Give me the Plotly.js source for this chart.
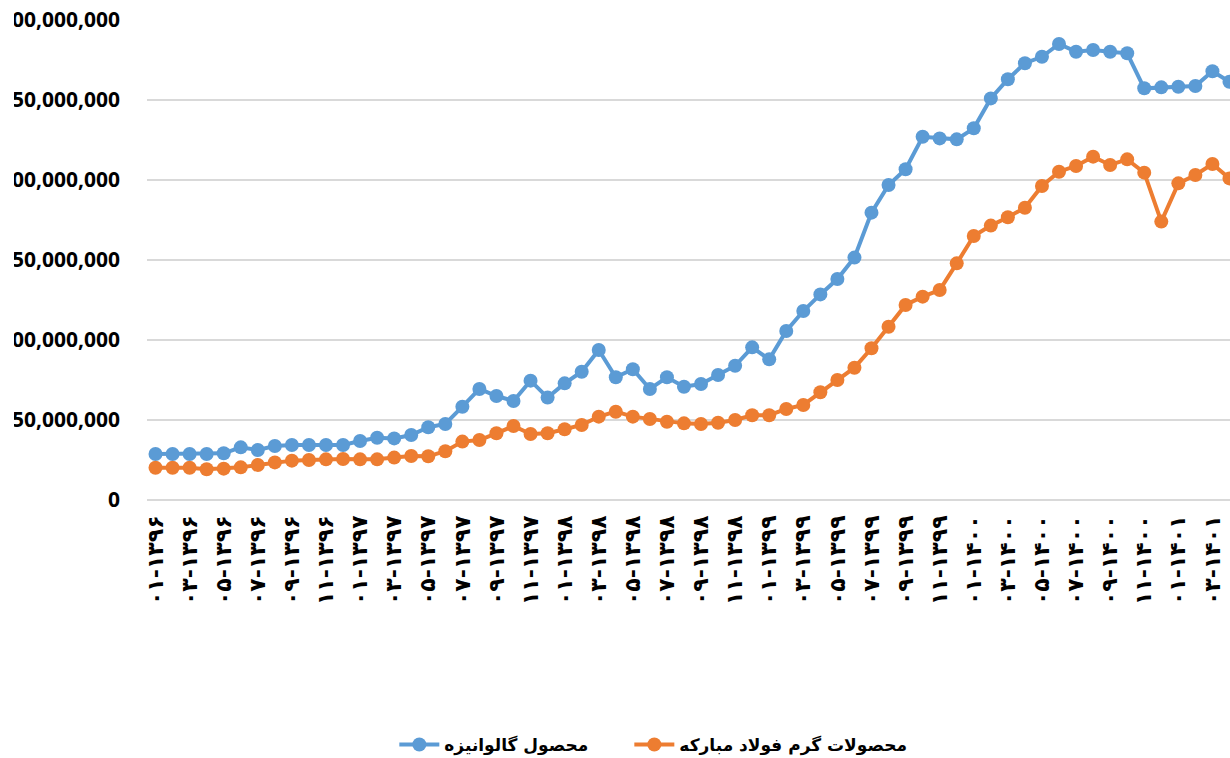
<!DOCTYPE html>
<html>
<head>
<meta charset="utf-8">
<script src="https://cdn.plot.ly/plotly-3.0.1.min.js"></script>
<style>
html,body{margin:0;padding:0;background:#fff;overflow:hidden;width:1230px;height:758px;}
#wrap{position:absolute;left:14px;top:0;width:1216px;height:758px;overflow:hidden;}
#chart{position:absolute;left:-54px;top:0;width:1300px;height:758px;}
</style>
</head>
<body>
<div id="wrap"><div id="chart"></div></div>
<script>
// Month labels (Solar Hijri), month-year
const categories = [
"۰۱-۱۳۹۶","۰۲-۱۳۹۶","۰۳-۱۳۹۶","۰۴-۱۳۹۶","۰۵-۱۳۹۶","۰۶-۱۳۹۶","۰۷-۱۳۹۶","۰۸-۱۳۹۶","۰۹-۱۳۹۶","۱۰-۱۳۹۶","۱۱-۱۳۹۶","۱۲-۱۳۹۶",
"۰۱-۱۳۹۷","۰۲-۱۳۹۷","۰۳-۱۳۹۷","۰۴-۱۳۹۷","۰۵-۱۳۹۷","۰۶-۱۳۹۷","۰۷-۱۳۹۷","۰۸-۱۳۹۷","۰۹-۱۳۹۷","۱۰-۱۳۹۷","۱۱-۱۳۹۷","۱۲-۱۳۹۷",
"۰۱-۱۳۹۸","۰۲-۱۳۹۸","۰۳-۱۳۹۸","۰۴-۱۳۹۸","۰۵-۱۳۹۸","۰۶-۱۳۹۸","۰۷-۱۳۹۸","۰۸-۱۳۹۸","۰۹-۱۳۹۸","۱۰-۱۳۹۸","۱۱-۱۳۹۸","۱۲-۱۳۹۸",
"۰۱-۱۳۹۹","۰۲-۱۳۹۹","۰۳-۱۳۹۹","۰۴-۱۳۹۹","۰۵-۱۳۹۹","۰۶-۱۳۹۹","۰۷-۱۳۹۹","۰۸-۱۳۹۹","۰۹-۱۳۹۹","۱۰-۱۳۹۹","۱۱-۱۳۹۹","۱۲-۱۳۹۹",
"۰۱-۱۴۰۰","۰۲-۱۴۰۰","۰۳-۱۴۰۰","۰۴-۱۴۰۰","۰۵-۱۴۰۰","۰۶-۱۴۰۰","۰۷-۱۴۰۰","۰۸-۱۴۰۰","۰۹-۱۴۰۰","۱۰-۱۴۰۰","۱۱-۱۴۰۰","۱۲-۱۴۰۰",
"۰۱-۱۴۰۱","۰۲-۱۴۰۱","۰۳-۱۴۰۱","۰۴-۱۴۰۱"
];

// Tick labels shown on the axis (every other month)
const tickLabels = categories.filter((c, i) => i % 2 === 0);

const galvanizedName = "محصول گالوانیزه";
const galvanized = [
28750000,28750000,28750000,28750000,29200000,32900000,31250000,33750000,34400000,34400000,34400000,34400000,
36900000,38900000,38500000,40600000,45500000,47500000,58300000,69400000,65000000,61900000,74600000,64000000,
72900000,80200000,93750000,76700000,81700000,69400000,76700000,70800000,72500000,78100000,83900000,95400000,
87900000,105600000,118100000,128500000,138100000,151500000,179600000,196900000,206700000,227000000,226000000,225400000,
232300000,251000000,263000000,273000000,277000000,285000000,280200000,281250000,280200000,279200000,257300000,257900000,
258300000,258750000,268000000,261400000
];

const hotRolledName = "محصولات گرم فولاد مبارکه";
const hotRolled = [
20200000,20200000,20200000,19200000,19600000,20400000,21900000,23500000,24600000,25000000,25400000,25600000,
25400000,25400000,26500000,27500000,27300000,30500000,36500000,37500000,41700000,46250000,41250000,41700000,
44200000,46900000,52100000,55200000,52100000,50600000,48900000,47900000,47500000,48300000,50000000,53000000,
53000000,56900000,59400000,67300000,75000000,82700000,94800000,108300000,121900000,127100000,131250000,147900000,
165000000,171500000,176700000,182700000,196250000,205200000,208750000,214600000,209400000,212900000,204600000,174000000,
197900000,203100000,210000000,201000000
];

const boldFont = "'Open Sans', 'DejaVu Sans', sans-serif";
const persianFont = "'DejaVu Sans', sans-serif";

const traces = [
  {
    x: categories, y: galvanized, name: galvanizedName, type: "scatter", mode: "lines+markers",
    line: {color: "#5b9bd5", width: 4},
    marker: {color: "#5b9bd5", size: 14},
    cliponaxis: true, legend: "legend"
  },
  {
    x: categories, y: hotRolled, name: hotRolledName, type: "scatter", mode: "lines+markers",
    line: {color: "#ed7d31", width: 4},
    marker: {color: "#ed7d31", size: 14},
    cliponaxis: true, legend: "legend2"
  }
];

const legendFont = {family: persianFont, size: 17, color: "#000", weight: "bold"};

const layout = {
  width: 1300, height: 758,
  margin: {l: 187, r: 22, t: 20, b: 258, autoexpand: false},
  paper_bgcolor: "#ffffff", plot_bgcolor: "#ffffff",
  showlegend: true,
  legend: {
    orientation: "h", x: 0.2267, xanchor: "left", y: -0.5104, yanchor: "middle",
    font: legendFont, itemwidth: 40, bgcolor: "rgba(0,0,0,0)"
  },
  legend2: {
    orientation: "h", x: 0.4421, xanchor: "left", y: -0.5104, yanchor: "middle",
    font: legendFont, itemwidth: 40, bgcolor: "rgba(0,0,0,0)"
  },
  xaxis: {
    type: "category", categoryorder: "array", categoryarray: categories,
    range: [-0.5, categories.length - 0.5],
    tickvals: tickLabels, ticktext: tickLabels,
    tickangle: -90, ticks: "", ticklabelstandoff: 10,
    showgrid: false, zeroline: false, showline: false,
    tickfont: {family: persianFont, size: 22, color: "#000", weight: "bold"},
    fixedrange: true
  },
  yaxis: {
    range: [0, 300000000], dtick: 50000000, tick0: 0, tickformat: ",d",
    showgrid: true, gridcolor: "#d9d9d9", gridwidth: 1.3,
    zeroline: true, zerolinecolor: "#d9d9d9", zerolinewidth: 1.3,
    ticks: "", ticklabelstandoff: 26,
    tickfont: {family: boldFont, size: 21, color: "#000", weight: "bold"},
    fixedrange: true
  }
};

Plotly.newPlot("chart", traces, layout, {displayModeBar: false, staticPlot: true});
</script>
</body>
</html>
